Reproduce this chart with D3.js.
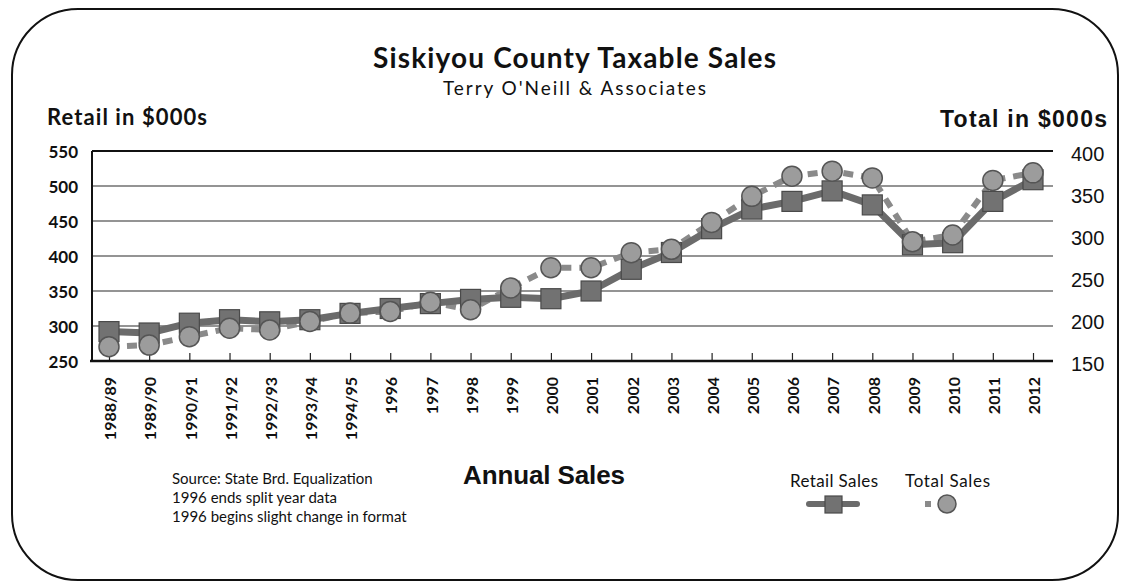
<!DOCTYPE html>
<meta charset="utf-8">
<head>
    <meta charset="UTF-8">
    <title>Siskiyou County Taxable Sales</title>
</head>
<style>
body { margin:0; background:#fff; }
.gill { font-family: Lato, "Open Sans", sans-serif; }
.arial { font-family: "Liberation Sans", Arial, sans-serif; }
</style>
<body>
<script src="https://d3js.org/d3.v7.min.js"></script>
<script>

// categories (fiscal years then calendar years)
var years = ["1988/89","1989/90","1990/91","1991/92","1992/93","1993/94","1994/95",
             "1996","1997","1998","1999","2000","2001","2002","2003","2004","2005",
             "2006","2007","2008","2009","2010","2011","2012"];

// retail sales, left axis ($000s)
var retail = [292,290,304,309,306,309,318,325,332,338,341,339,350,381,405,439,467,
              478,493,473,416,419,478,509];

// total sales, right axis ($000s)
var total = [167,169,179,189,187,197,207,209,220,211,237,261,261,279,283,315,346,
             370,376,368,292,300,365,374];

var leftTicks = [250,300,350,400,450,500,550];
var rightTicks = [150,200,250,300,350,400];

var notes = ["Source: State Brd. Equalization",
             "1996 ends split year data",
             "1996 begins slight change in format"];

var svg = d3.select("body")
    .append("svg")
    .attr("width",1127)
    .attr("height",586);

// rounded frame
svg.append("rect")
   .attr("x",12).attr("y",9)
   .attr("width",1106).attr("height",571)
   .attr("rx",66).attr("ry",66)
   .attr("fill","none")
   .attr("stroke","#111")
   .attr("stroke-width",2);

// plot box
var plotL = 92, plotR = 1053, plotT = 151, plotB = 361;

var x = d3.scalePoint().domain(years).range([109,1033]);
var yL = d3.scaleLinear().domain([250,550]).range([plotB,plotT]);
var yR = d3.scaleLinear().domain([150,400]).range([plotB,plotT]);

// gridlines
svg.append("g")
   .selectAll("line")
   .data(leftTicks)
   .enter()
   .append("line")
   .attr("x1",plotL).attr("x2",plotR)
   .attr("y1",function(d){return yL(d)})
   .attr("y2",function(d){return yL(d)})
   .attr("stroke",function(d){return d==550 ? "#111" : "#2a2a2a"})
   .attr("stroke-width",function(d){return d==550 ? 2 : 1.2});

// left axis line
svg.append("line")
   .attr("x1",plotL).attr("x2",plotL)
   .attr("y1",plotT).attr("y2",plotB)
   .attr("stroke","#111").attr("stroke-width",2);

// left axis
var gL = svg.append("g")
   .attr("transform","translate(" + (plotL-14) + ",1)")
   .call(d3.axisLeft(yL).tickValues(leftTicks).tickSize(0).tickPadding(0));
gL.select(".domain").remove();
gL.selectAll("text")
  .attr("class","gill")
  .style("font-size","17px")
  .style("font-weight","bold")
  .attr("fill","#111");

// right axis
var gR = svg.append("g")
   .attr("transform","translate(1071,3)")
   .call(d3.axisRight(yR).tickValues(rightTicks).tickSize(0).tickPadding(0));
gR.select(".domain").remove();
gR.selectAll("text")
  .attr("class","arial")
  .style("font-size","20px")
  .attr("fill","#111");

// bottom axis with small upward ticks
var gX = svg.append("g")
   .attr("transform","translate(0," + plotB + ")")
   .call(d3.axisBottom(x).tickSizeInner(-8).tickSizeOuter(0));
gX.select(".domain").remove();
gX.selectAll(".tick line").attr("stroke","#222").attr("stroke-width",1.2);
gX.selectAll("text")
  .attr("class","gill")
  .attr("transform","rotate(-90)")
  .attr("x",-16)
  .attr("y",1)
  .attr("dy","0.36em")
  .style("text-anchor","end")
  .style("font-size","16px")
  .style("font-weight","bold")
  .attr("fill","#111");

svg.append("line")
   .attr("x1",plotL-2).attr("x2",plotR)
   .attr("y1",plotB).attr("y2",plotB)
   .attr("stroke","#111").attr("stroke-width",2.5);

// total sales dashed line
var lineT = d3.line()
    .x(function(d,i){return x(years[i])})
    .y(function(d){return yR(d)});
svg.append("path")
   .attr("d",lineT(total))
   .attr("fill","none")
   .attr("stroke","#8a8a8a")
   .attr("stroke-width",6)
   .attr("stroke-dasharray","10,8");

// retail solid line
var lineR = d3.line()
    .x(function(d,i){return x(years[i])})
    .y(function(d){return yL(d)});
svg.append("path")
   .attr("d",lineR(retail))
   .attr("fill","none")
   .attr("stroke","#6b6b6b")
   .attr("stroke-width",7)
   .attr("stroke-linejoin","round");

svg.append("g")
   .selectAll("rect")
   .data(retail)
   .enter()
   .append("rect")
   .attr("x",function(d,i){return x(years[i])-10})
   .attr("y",function(d){return yL(d)-10})
   .attr("width",20).attr("height",20)
   .attr("fill","#727272")
   .attr("stroke","#4a4a4a")
   .attr("stroke-width",1.2);

svg.append("g")
   .selectAll("circle")
   .data(total)
   .enter()
   .append("circle")
   .attr("cx",function(d,i){return x(years[i])})
   .attr("cy",function(d){return yR(d)})
   .attr("r",10)
   .attr("fill","#9c9c9c")
   .attr("stroke","#555")
   .attr("stroke-width",1.5);

// titles
svg.append("text").attr("class","gill")
   .attr("x",373).attr("y",68)
   .attr("textLength",403)
   .style("font-size","28px").style("font-weight","bold")
   .attr("fill","#111")
   .text("Siskiyou County Taxable Sales");
svg.append("text").attr("class","gill")
   .attr("x",443).attr("y",95)
   .attr("textLength",263)
   .style("font-size","19px")
   .attr("fill","#111")
   .text("Terry O'Neill & Associates");
svg.append("text").attr("class","gill")
   .attr("x",47).attr("y",125)
   .attr("textLength",160)
   .style("font-size","22px").style("font-weight","bold")
   .attr("fill","#111")
   .text("Retail in $000s");
svg.append("text").attr("class","arial")
   .attr("x",940).attr("y",127)
   .attr("textLength",167)
   .style("font-size","23px").style("font-weight","bold")
   .attr("fill","#111")
   .text("Total in $000s");
svg.append("text").attr("class","arial")
   .attr("x",463).attr("y",484)
   .attr("textLength",162)
   .style("font-size","26px").style("font-weight","900")
   .attr("fill","#111")
   .text("Annual Sales");

// source notes
svg.append("g")
   .selectAll("text")
   .data(notes)
   .enter()
   .append("text")
   .attr("class","gill")
   .attr("x",172)
   .attr("y",function(d,i){return 484 + i*19})
   .style("font-size","15px")
   .attr("fill","#111")
   .text(function(d){return d});

// legend
svg.append("text").attr("class","gill")
   .attr("x",790).attr("y",487)
   .attr("textLength",88)
   .style("font-size","17px")
   .attr("fill","#111")
   .text("Retail Sales");
svg.append("text").attr("class","gill")
   .attr("x",905).attr("y",487)
   .attr("textLength",85)
   .style("font-size","17px")
   .attr("fill","#111")
   .text("Total Sales");
svg.append("line")
   .attr("x1",809).attr("x2",857)
   .attr("y1",504).attr("y2",504)
   .attr("stroke","#6b6b6b").attr("stroke-width",6)
   .attr("stroke-linecap","round");
svg.append("rect")
   .attr("x",825).attr("y",496).attr("width",17).attr("height",17)
   .attr("fill","#727272").attr("stroke","#4a4a4a").attr("stroke-width",1.2);
svg.append("rect")
   .attr("x",925).attr("y",501).attr("width",6).attr("height",6)
   .attr("fill","#8a8a8a");
svg.append("circle")
   .attr("cx",947).attr("cy",504).attr("r",9)
   .attr("fill","#9c9c9c").attr("stroke","#555").attr("stroke-width",1.5);

</script>
</body>
